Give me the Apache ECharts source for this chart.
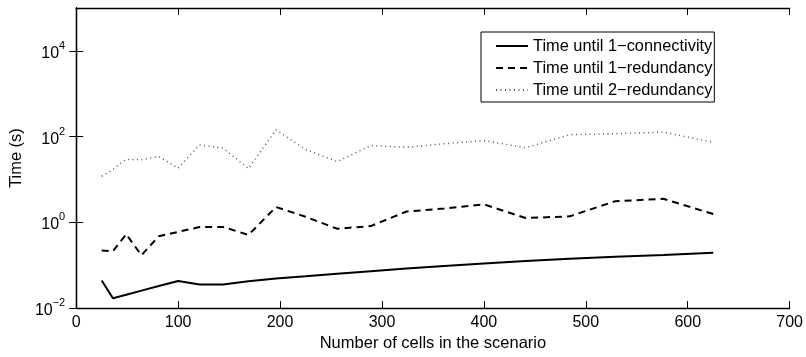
<!DOCTYPE html>
<html>
<head>
<meta charset="utf-8">
<script src="https://cdn.jsdelivr.net/npm/echarts@6/dist/echarts.min.js"></script>
<style>
  html, body { margin: 0; padding: 0; background: #fff; }
  #chart { width: 806px; height: 357px; }
</style>
</head>
<body>
<div id="chart"></div>
<script>
// Scenario sizes (n x n grids) and measured times in seconds
const cells = [25, 36, 49, 64, 81, 100, 121, 144, 169, 196, 225, 256, 289, 324, 361, 400, 441, 484, 529, 576, 625];
const connectivity1 = [0.044, 0.0169, 0.0204, 0.0256, 0.0327, 0.043, 0.0357, 0.0357, 0.0425, 0.049, 0.055, 0.0635, 0.0728, 0.0838, 0.0964, 0.110, 0.125, 0.141, 0.157, 0.174, 0.195];
const redundancy1 = [0.222, 0.211, 0.528, 0.171, 0.476, 0.6, 0.78, 0.78, 0.51, 2.28, 1.35, 0.71, 0.82, 1.79, 2.1, 2.63, 1.26, 1.38, 3.12, 3.54, 1.56];
const redundancy2 = [11.9, 17.2, 29.5, 29, 34.4, 18.3, 64, 54, 18, 144, 50, 26.1, 62, 56.4, 68, 81, 55, 111, 117, 127, 74];

const seriesNames = ['Time until 1\u2212connectivity', 'Time until 1\u2212redundancy', 'Time until 2\u2212redundancy'];
const yTickValues = [0.01, 1, 100, 10000];
const xTicks = { min: 0, max: 700, step: 100 };

const FONT = "'Liberation Sans', Helvetica, Arial, sans-serif";

function pairs(ys) {
  return cells.map((c, i) => [c, ys[i]]);
}

function powerLabel(v) {
  const e = Math.round(Math.log10(v));
  return '{b|10}{s|' + (e < 0 ? '\u2212' + (-e) : e) + '}';
}

const tickStyle = { inside: true, length: 7, lineStyle: { color: '#000', width: 1 } };
const lineStyleAxis = { show: true, lineStyle: { color: '#000', width: 1.3 } };

const chart = echarts.init(document.getElementById('chart'), null, { renderer: 'canvas' });

chart.setOption({
  animation: false,
  backgroundColor: '#fff',
  grid: { left: 63, right: 15, top: 8, bottom: 40, containLabel: false },
  legend: {
    orient: 'vertical',
    left: 481,
    top: 32,
    backgroundColor: '#fff',
    borderColor: '#000',
    borderWidth: 1,
    padding: [3, 2, 1, 14],
    itemGap: 0,
    itemWidth: 32,
    itemHeight: 14,
    // line samples only, no marker in the middle
    itemStyle: { opacity: 0 },
    textStyle: { fontFamily: FONT, fontSize: 16.4, color: '#000', lineHeight: 22 },
    data: seriesNames
  },
  xAxis: [
    {
      type: 'value', min: xTicks.min, max: xTicks.max, interval: xTicks.step,
      position: 'bottom',
      name: 'Number of cells in the scenario',
      nameLocation: 'middle', nameGap: 21,
      nameTextStyle: { fontFamily: FONT, fontSize: 16.5, color: '#000' },
      axisLine: lineStyleAxis,
      axisTick: tickStyle,
      axisLabel: { fontFamily: FONT, fontSize: 16, color: '#000', margin: 6 },
      splitLine: { show: false }
    },
    {
      type: 'value', min: xTicks.min, max: xTicks.max, interval: xTicks.step,
      position: 'top',
      axisLine: lineStyleAxis,
      axisTick: tickStyle,
      axisLabel: { show: false },
      splitLine: { show: false }
    }
  ],
  yAxis: [
    {
      type: 'log', logBase: 10, min: 0.01, max: 100000,
      position: 'left',
      name: 'Time (s)',
      nameLocation: 'middle', nameGap: 39,
      nameTextStyle: { fontFamily: FONT, fontSize: 16.4, color: '#000' },
      axisLine: lineStyleAxis,
      axisTick: Object.assign({ customValues: yTickValues }, tickStyle),
      minorTick: { show: false },
      axisLabel: {
        customValues: yTickValues,
        margin: 11,
        formatter: powerLabel,
        rich: {
          b: { fontFamily: FONT, fontSize: 16, color: '#000', verticalAlign: 'bottom' },
          s: { fontFamily: FONT, fontSize: 11, color: '#000', verticalAlign: 'bottom', padding: [0, 0, 10, 0] }
        }
      },
      splitLine: { show: false }
    },
    {
      type: 'log', logBase: 10, min: 0.01, max: 100000,
      position: 'right',
      axisLine: lineStyleAxis,
      axisTick: Object.assign({ customValues: yTickValues }, tickStyle),
      minorTick: { show: false },
      axisLabel: { show: false },
      splitLine: { show: false }
    }
  ],
  series: [
    {
      name: seriesNames[0], type: 'line', xAxisIndex: 0, yAxisIndex: 0,
      data: pairs(connectivity1), symbol: 'none',
      lineStyle: { color: '#000', width: 2, type: 'solid' },
      itemStyle: { color: '#000' }
    },
    {
      name: seriesNames[1], type: 'line', xAxisIndex: 0, yAxisIndex: 0,
      data: pairs(redundancy1), symbol: 'none',
      lineStyle: { color: '#000', width: 2, type: [7, 5] },
      itemStyle: { color: '#000' }
    },
    {
      name: seriesNames[2], type: 'line', xAxisIndex: 0, yAxisIndex: 0,
      data: pairs(redundancy2), symbol: 'none',
      lineStyle: { color: '#555', width: 1.5, type: [1, 3.5] },
      itemStyle: { color: '#555' }
    }
  ]
});
</script>
</body>
</html>
